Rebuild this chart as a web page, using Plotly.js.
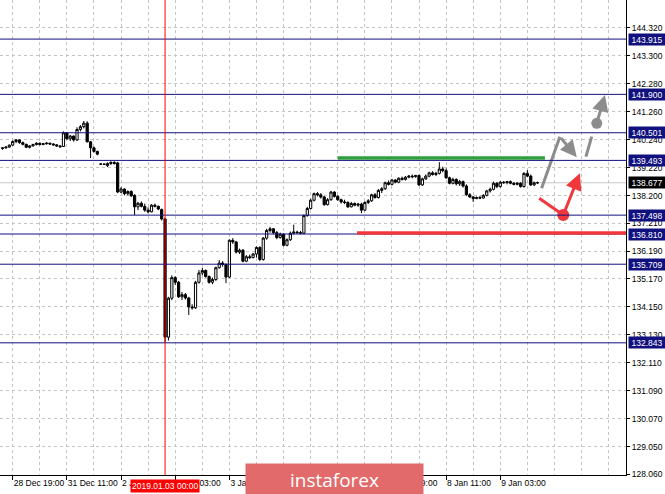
<!DOCTYPE html>
<html><head><meta charset="utf-8">
<script src="https://cdn.plot.ly/plotly-3.0.1.min.js"></script>
<style>html,body{margin:0;padding:0;background:#fff}#chart{width:665px;height:494px}</style>
</head><body><div id="chart"></div>
<script>
// ---- hourly USDJPY bars ----
const open=[139.93,139.95,139.98,140.05,140.18,140.24,140.14,140.08,139.97,140.02,140.07,140.12,140.07,140.10,140.12,140.09,140.06,140.02,140.00,140.50,
140.28,140.38,140.24,140.62,140.72,140.85,140.17,139.95,139.82,139.36,139.36,139.30,139.38,139.42,139.40,138.34,138.45,138.28,138.36,138.22,
137.80,137.93,137.82,137.68,137.62,137.86,137.82,137.70,137.36,133.05,134.47,135.22,135.05,134.52,134.60,134.48,134.15,134.12,135.05,135.39,
135.48,135.26,135.05,135.15,135.58,135.75,135.70,135.24,136.58,136.52,136.15,136.22,135.82,135.98,135.95,136.08,136.32,135.88,136.66,136.94,
137.00,136.86,136.68,136.80,136.40,136.60,136.84,136.88,136.86,136.84,137.48,137.74,138.04,138.28,138.24,138.16,137.88,138.06,138.34,138.18,
138.06,137.98,137.96,137.80,137.92,137.86,137.90,137.68,137.96,138.02,138.24,138.14,138.40,138.46,138.68,138.62,138.78,138.70,138.84,138.80,
138.88,138.92,138.90,138.94,138.60,138.82,138.92,139.04,138.98,139.02,139.18,139.12,138.86,138.66,138.80,138.64,138.72,138.56,138.24,138.16,
138.10,138.14,138.12,138.22,138.38,138.44,138.66,138.54,138.70,138.68,138.72,138.66,138.62,138.66,138.54,139.02,138.92,138.60,138.68];
const high=[139.97,140.00,140.07,140.22,140.27,140.26,140.18,140.10,140.05,140.10,140.15,140.14,140.13,140.16,140.14,140.12,140.08,140.05,140.55,140.52,
140.42,140.40,140.70,140.78,140.93,140.92,140.20,140.00,139.85,139.38,139.37,139.42,139.46,139.46,139.44,138.52,138.47,138.40,138.40,138.26,
137.98,138.00,137.92,137.78,137.90,137.92,137.85,137.74,137.40,134.52,135.30,135.27,135.10,134.70,134.66,134.52,134.25,135.10,135.50,135.58,
135.52,135.30,135.22,135.62,135.86,135.82,135.74,136.62,136.66,136.56,136.28,136.26,136.04,136.06,136.12,136.36,136.36,136.70,137.00,137.07,
137.02,136.92,136.86,136.84,136.65,136.90,137.15,136.93,136.92,137.52,137.80,138.10,138.32,138.34,138.30,138.20,138.12,138.38,138.36,138.22,
138.10,138.06,138.00,137.98,137.96,137.94,137.95,138.00,138.08,138.28,138.30,138.45,138.52,138.72,138.76,138.82,138.80,138.88,138.90,138.92,
138.96,138.98,138.97,138.98,138.86,138.98,139.08,139.10,139.08,139.43,139.26,139.20,138.90,138.86,138.84,138.78,138.76,138.62,138.30,138.20,
138.18,138.20,138.26,138.42,138.50,138.72,138.70,138.74,138.74,138.74,138.76,138.70,138.70,138.70,139.06,139.14,138.98,138.72,138.72];
const low=[139.88,139.92,139.95,140.02,140.12,140.10,140.04,139.94,139.93,140.00,140.04,140.04,140.05,140.07,140.06,140.03,139.99,139.96,139.98,140.25,
140.20,140.18,140.20,140.55,140.66,140.15,139.58,139.78,139.68,139.34,139.33,139.25,139.33,139.34,138.30,138.30,138.22,138.22,138.16,137.50,
137.68,137.78,137.62,137.56,137.60,137.78,137.68,137.30,132.85,132.93,134.40,134.95,134.48,134.40,134.42,133.86,134.05,134.08,135.00,135.30,
135.22,135.00,134.98,135.10,135.55,135.62,135.02,135.20,136.45,136.10,136.08,135.78,135.78,135.90,135.92,135.95,135.82,135.84,136.60,136.86,
136.80,136.62,136.64,136.36,136.36,136.56,136.80,136.82,136.80,136.80,137.44,137.70,138.00,138.18,138.10,137.84,137.85,138.02,138.14,138.02,
137.92,137.90,137.76,137.78,137.82,137.80,137.57,137.64,137.90,137.98,138.10,138.10,138.30,138.42,138.58,138.58,138.66,138.66,138.76,138.76,
138.84,138.84,138.86,138.56,138.56,138.78,138.88,138.94,138.92,138.98,139.06,138.82,138.62,138.62,138.58,138.56,138.50,138.20,138.12,137.98,
138.08,138.08,138.10,138.18,138.32,138.40,138.48,138.50,138.64,138.62,138.62,138.58,138.58,138.50,138.50,138.88,138.56,138.56,138.64];
const close=[139.95,139.98,140.05,140.18,140.24,140.14,140.08,139.97,140.02,140.07,140.12,140.07,140.10,140.12,140.09,140.06,140.02,139.99,140.50,140.28,
140.38,140.24,140.62,140.72,140.85,140.17,139.95,139.82,139.72,139.36,139.35,139.38,139.42,139.38,138.34,138.45,138.28,138.36,138.20,137.80,
137.93,137.82,137.68,137.62,137.86,137.82,137.72,137.36,133.05,134.47,135.22,135.05,134.52,134.60,134.48,134.15,134.12,135.05,135.39,135.48,
135.26,135.05,135.15,135.58,135.75,135.70,135.24,136.58,136.52,136.15,136.22,135.82,135.98,135.95,136.08,136.32,135.88,136.66,136.94,137.00,
136.86,136.68,136.80,136.40,136.60,136.84,136.88,136.86,136.84,137.48,137.74,138.04,138.28,138.24,138.16,137.88,138.06,138.34,138.18,138.06,
137.98,137.96,137.80,137.92,137.86,137.90,137.68,137.96,138.02,138.24,138.14,138.40,138.46,138.68,138.62,138.78,138.70,138.84,138.80,138.88,
138.92,138.90,138.94,138.60,138.82,138.92,139.04,138.98,139.02,139.18,139.12,138.86,138.66,138.80,138.64,138.72,138.56,138.24,138.16,138.10,
138.14,138.12,138.22,138.38,138.44,138.66,138.54,138.70,138.68,138.72,138.66,138.62,138.66,138.54,139.02,138.92,138.60,138.68,138.677];

const tickBars=[3,19,35,51,67,83,99,115,131,147];
const tickLabels=["28 Dec 19:00","31 Dec 11:00","2 Jan 11:00","3 Jan 03:00","3 Jan 19:00","4 Jan 11:00","7 Jan 03:00","7 Jan 19:00","8 Jan 11:00","9 Jan 03:00"];
const priceTicks=[128.060,129.050,130.070,131.090,132.110,133.130,134.150,135.170,136.190,137.210,138.200,139.220,140.240,141.260,142.280,143.300,144.320];
const levels=[143.915,141.900,140.501,139.493,137.498,136.810,135.709,132.843];
const lastPrice=138.677;
const markerBar=48, markerLabel="2019.01.03 00:00";
const greenZone={from:99, to:160.2, price:139.58};
const redZone={from:104.7, to:184.2, price:136.845};
// forecast sketch (bar index / price)
const grayLine1X=[159.2,164.6], grayLine1Y=[138.476,140.358];
const grayArrow1=[164.6,140.358,169.6,139.607];
const grayLine2X=[172.3,174.0], grayLine2Y=[139.628,140.357];
const grayDotX=[175.5], grayDotY=[140.846];
const grayArrow2=[175.5,140.846,177.9,141.878];
const redLineX=[158.5,165.6], redLineY=[138.112,137.503];
const redDotX=[165.6], redDotY=[137.503];
const redArrow=[165.6,137.503,170.5,139.023];

const bars=close.map((_,i)=>i);
const GRID='#c4c4c4', NAVY='#10107e', GRAY='#8c8c8c', RED='#f0383c', GREEN='#2e9e3e';
const FONT='Liberation Sans, Arial, sans-serif';

const gridAll=[];for(let v=-5;v<=183;v+=8)gridAll.push(v);
const minorVals=gridAll.filter(v=>!tickBars.includes(v));

const traces=[
 {type:'candlestick',x:bars,open:open,high:high,low:low,close:close,
  increasing:{line:{color:'#000',width:1},fillcolor:'#fff'},
  decreasing:{line:{color:'#000',width:1},fillcolor:'#000'},
  whiskerwidth:0,hoverinfo:'none',showlegend:false},
 {type:'scatter',mode:'lines',x:grayLine1X,y:grayLine1Y,line:{color:GRAY,width:3},showlegend:false,hoverinfo:'none'},
 {type:'scatter',mode:'lines',x:grayLine2X,y:grayLine2Y,line:{color:GRAY,width:3},showlegend:false,hoverinfo:'none'},
 {type:'scatter',mode:'lines',x:redLineX,y:redLineY,line:{color:RED,width:3},showlegend:false,hoverinfo:'none'},
 {type:'scatter',mode:'markers',x:grayDotX,y:grayDotY,marker:{color:GRAY,size:11},showlegend:false,hoverinfo:'none'},
 {type:'scatter',mode:'markers',x:redDotX,y:redDotY,marker:{color:RED,size:12},showlegend:false,hoverinfo:'none'}
];

const shapes=[];
shapes.push({type:'line',xref:'paper',x0:0,x1:1,yref:'y',y0:lastPrice,y1:lastPrice,line:{color:'#c8c8c8',width:1},layer:'below'});
levels.forEach(l=>shapes.push({type:'line',xref:'paper',x0:0,x1:1,yref:'y',y0:l,y1:l,line:{color:NAVY,width:1},layer:'above'}));
shapes.push({type:'line',xref:'x',x0:greenZone.from,x1:greenZone.to,yref:'y',y0:greenZone.price,y1:greenZone.price,line:{color:GREEN,width:3.5},layer:'above'});
shapes.push({type:'line',xref:'x',x0:redZone.from,x1:redZone.to,yref:'y',y0:redZone.price,y1:redZone.price,line:{color:RED,width:3.5},layer:'above'});
shapes.push({type:'line',xref:'x',x0:markerBar,x1:markerBar,yref:'paper',y0:0,y1:1,line:{color:'#ff0000',width:1},layer:'above'});

const annotations=[];
levels.forEach(l=>annotations.push({xref:'paper',x:1,xanchor:'left',xshift:2,yref:'y',y:l,yanchor:'middle',
 text:l.toFixed(3),showarrow:false,bgcolor:NAVY,font:{family:FONT,size:8.5,color:'#fff'},width:34,height:9,borderpad:1}));
annotations.push({xref:'paper',x:1,xanchor:'left',xshift:2,yref:'y',y:lastPrice,yanchor:'middle',
 text:lastPrice.toFixed(3),showarrow:false,bgcolor:'#000',font:{family:FONT,size:8.5,color:'#fff'},width:34,height:9,borderpad:1});
annotations.push({xref:'x',x:markerBar,xanchor:'center',yref:'paper',y:-0.0232,yanchor:'middle',
 text:markerLabel,showarrow:false,bgcolor:'#ff0000',font:{family:FONT,size:8.5,color:'#fff'},borderpad:1});
[[grayArrow1,GRAY],[grayArrow2,GRAY],[redArrow,RED]].forEach(([a,c])=>annotations.push({
 xref:'x',yref:'y',axref:'x',ayref:'y',ax:a[0],ay:a[1],x:a[2],y:a[3],text:'',showarrow:true,
 arrowhead:2,arrowsize:1.1,arrowwidth:3,arrowcolor:c,standoff:0}));
annotations.push({xref:'paper',x:245/626,xanchor:'left',yref:'paper',y:12/475,yanchor:'top',
 text:'instaforex',showarrow:false,bgcolor:'#e26a6a',width:177,height:31,borderpad:0,
 font:{family:'Open Sans, sans-serif',size:19,color:'#fff'}});

const layout={
 width:665,height:494,margin:{l:0,r:39,t:0,b:19},boxgap:0.35,boxgroupgap:0,
 paper_bgcolor:'#fff',plot_bgcolor:'#fff',showlegend:false,dragmode:false,
 xaxis:{type:'linear',range:[-0.75,184.13],rangeslider:{visible:false},
  tickmode:'array',tickvals:tickBars,ticktext:tickLabels,ticklabelposition:'outside right',tickangle:0,
  ticks:'outside',ticklen:4,tickcolor:'#000',tickfont:{family:FONT,size:8.5,color:'#000'},
  showgrid:true,gridcolor:GRID,griddash:'3px,3px',gridwidth:1,
  minor:{tickmode:'array',tickvals:minorVals,showgrid:true,gridcolor:GRID,griddash:'3px,3px',ticks:''},
  showline:true,linecolor:'#000',linewidth:1,zeroline:false,fixedrange:true},
 yaxis:{side:'right',range:[128.025,145.34],tickmode:'array',tickvals:priceTicks,ticktext:priceTicks.map(v=>v.toFixed(3)),
  ticks:'outside',ticklen:3,tickcolor:'#000',tickfont:{family:FONT,size:8.5,color:'#000'},
  showgrid:true,gridcolor:GRID,griddash:'3px,3px',gridwidth:1,
  showline:true,linecolor:'#000',linewidth:1,zeroline:false,fixedrange:true},
 shapes:shapes,annotations:annotations
};
Plotly.newPlot('chart',traces,layout,{displayModeBar:false,staticPlot:true});
</script></body></html>
